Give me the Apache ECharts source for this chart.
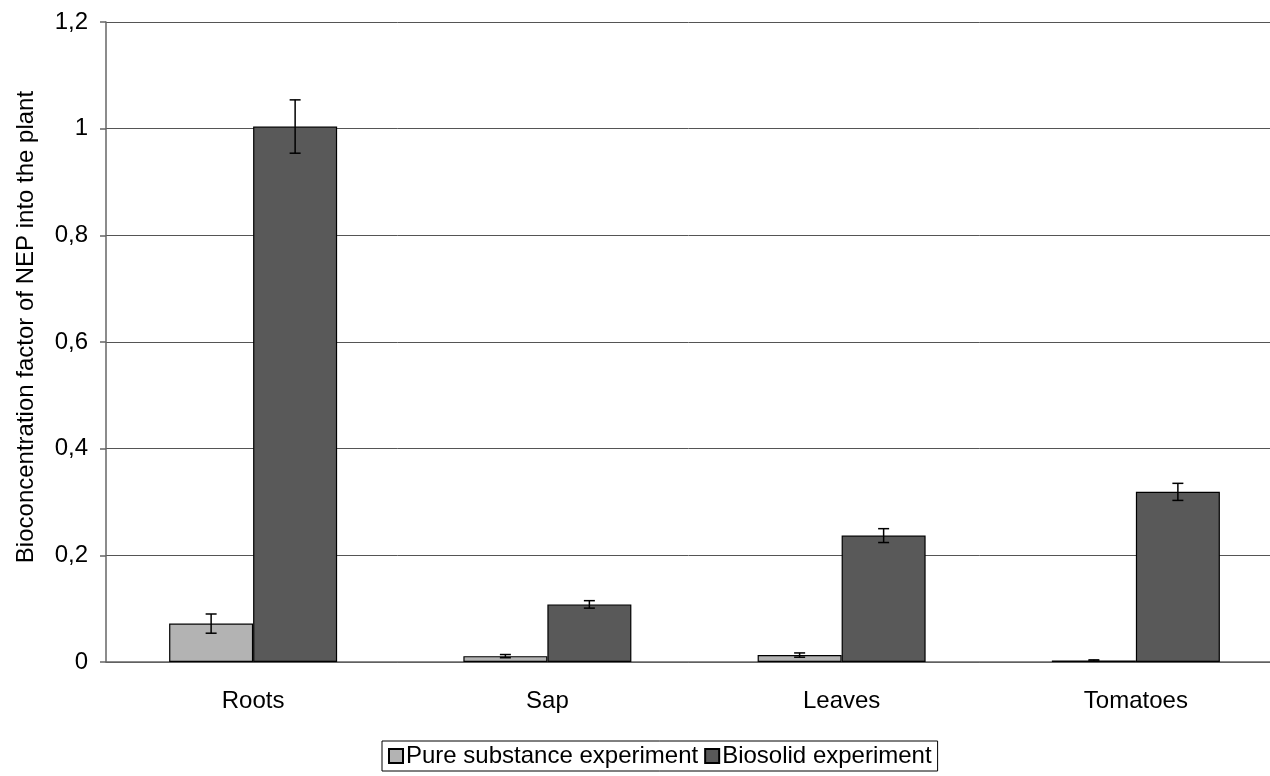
<!DOCTYPE html>
<html>
<head>
<meta charset="utf-8">
<script src="https://cdn.jsdelivr.net/npm/echarts@6/dist/echarts.min.js"></script>
<style>
  html, body { margin: 0; padding: 0; background: #fff; }
  #main { width: 1270px; height: 776px; }
</style>
</head>
<body>
<div id="main"></div>
<script>
const categories = ['Roots', 'Sap', 'Leaves', 'Tomatoes']
const pureValues = [0.072, 0.011, 0.013, 0.003]
const pureErrors = [0.018, 0.003, 0.004, 0.001]
const biosolidValues = [1.004, 0.108, 0.237, 0.319]
const biosolidErrors = [0.050, 0.007, 0.013, 0.016]
const yTicks = [0, 0.2, 0.4, 0.6, 0.8, 1.0, 1.2]

const font = "'Liberation Sans', Arial, sans-serif"
const barWidth = 84

const chart = echarts.init(document.getElementById('main'))

// error bars drawn at the centre of each bar of the pair
const errorBar = (offset) => (params, api) => {
  const x = api.coord([api.value(0), 0])[0] + offset
  const hi = api.coord([api.value(0), api.value(1) + api.value(2)])[1]
  const lo = api.coord([api.value(0), api.value(1) - api.value(2)])[1]
  const w = 5.5
  const style = {stroke: '#000', lineWidth: 1.5}
  return {
    type: 'group',
    children: [
      {type: 'line', shape: {x1: x, y1: hi, x2: x, y2: lo}, style},
      {type: 'line', shape: {x1: x - w, y1: hi, x2: x + w, y2: hi}, style},
      {type: 'line', shape: {x1: x - w, y1: lo, x2: x + w, y2: lo}, style}
    ]
  }
}

const toErr = (vals, errs) => vals.map((v, i) => [i, v, errs[i]])

chart.setOption({
  animation: false,
  textStyle: {fontFamily: font},
  // the plot runs a little past the right edge of the picture
  grid: {left: 106, top: 22, width: 1177, height: 640, outerBoundsMode: 'none', containLabel: false},
  legend: {
    data: ['Pure substance experiment', 'Biosolid experiment'],
    left: 382,
    top: 741,
    itemWidth: 14,
    itemHeight: 14,
    itemGap: 6,
    padding: [3, 6, 3, 6],
    borderColor: '#000',
    borderWidth: 1,
    borderRadius: 0,
    icon: 'rect',
    textStyle: {fontFamily: font, fontSize: 24, color: '#000', padding: [0, 0, 0, -2]}
  },
  xAxis: {
    type: 'category',
    data: categories,
    axisLine: {lineStyle: {color: '#666', width: 1.5}},
    axisTick: {length: 6, lineStyle: {color: '#666', width: 1.5}},
    axisLabel: {color: '#000', fontSize: 24, margin: 27, fontFamily: font}
  },
  yAxis: {
    type: 'value',
    min: 0,
    max: 1.2,
    interval: 0.2,
    name: 'Bioconcentration factor of NEP into the plant',
    nameLocation: 'middle',
    nameGap: 68,
    nameTextStyle: {color: '#000', fontSize: 24, fontFamily: font, padding: [0, 0, 0, 30]},
    axisLine: {show: true, lineStyle: {color: '#666', width: 1.5}},
    axisTick: {show: true, length: 6, lineStyle: {color: '#666', width: 1.5}},
    splitLine: {lineStyle: {color: '#555', width: 1}},
    axisLabel: {
      color: '#000',
      fontSize: 24,
      margin: 18,
      padding: [6, 0, 0, 0],
      fontFamily: font,
      formatter: v => {
        const t = yTicks.find(k => Math.abs(k - v) < 1e-9)
        return String(+(t !== undefined ? t : v).toFixed(1)).replace('.', ',')
      }
    }
  },
  series: [
    {
      name: 'Pure substance experiment',
      type: 'bar',
      data: pureValues,
      barWidth: barWidth,
      barGap: '0%',
      itemStyle: {color: '#b3b3b3', borderColor: '#000', borderWidth: 1.2}
    },
    {
      name: 'Biosolid experiment',
      type: 'bar',
      data: biosolidValues,
      barWidth: barWidth,
      barGap: '0%',
      itemStyle: {color: '#595959', borderColor: '#000', borderWidth: 1.2}
    },
    {
      type: 'custom',
      renderItem: errorBar(-barWidth / 2),
      data: toErr(pureValues, pureErrors),
      encode: {x: 0, y: 1},
      z: 10,
      silent: true
    },
    {
      type: 'custom',
      renderItem: errorBar(barWidth / 2),
      data: toErr(biosolidValues, biosolidErrors),
      encode: {x: 0, y: 1},
      z: 10,
      silent: true
    }
  ]
})
</script>
</body>
</html>
